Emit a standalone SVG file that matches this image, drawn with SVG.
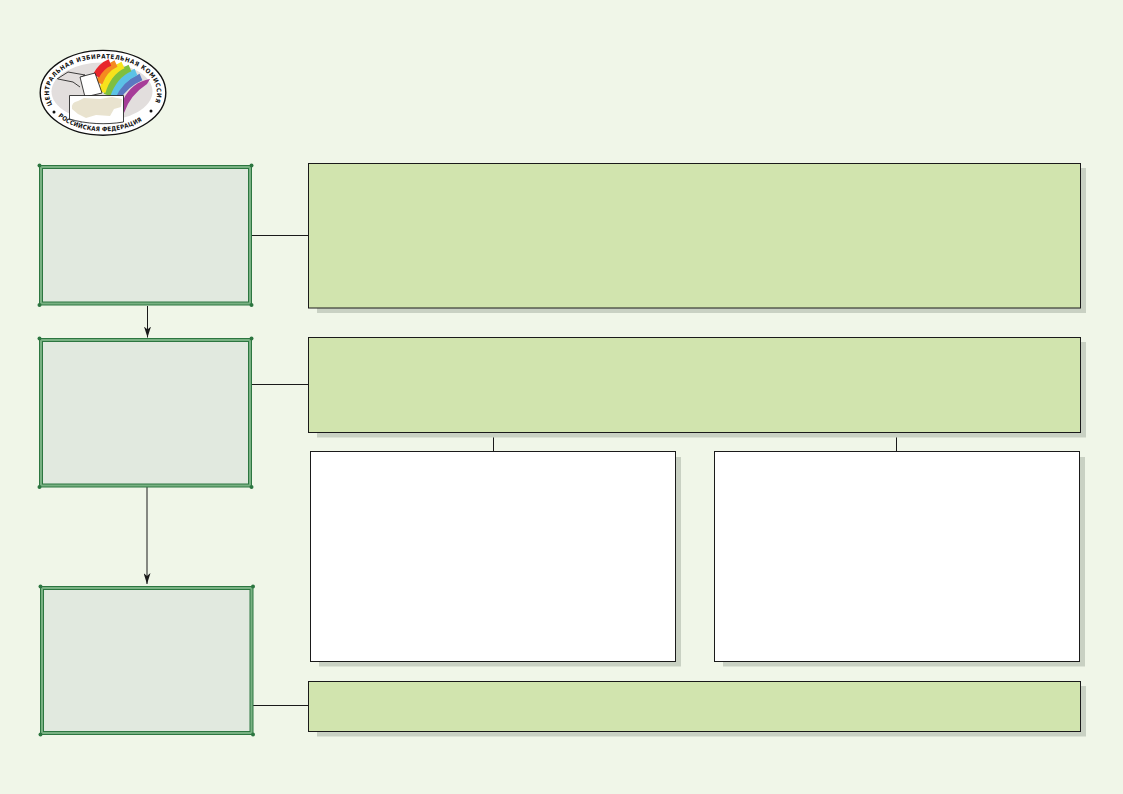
<svg xmlns="http://www.w3.org/2000/svg" width="1123" height="794" viewBox="0 0 1123 794">
<style>
.frame{fill:#78b182;stroke:#2c7640;stroke-width:1}
.inner{fill:#e1e9df;stroke:#2c7640;stroke-width:1}
.dot{fill:#2c7640}
.panel{fill:#d1e4ae;stroke:#1a1a1a;stroke-width:1}
.white{fill:#fff;stroke:#1a1a1a;stroke-width:1}
.shadow{fill:#c9d1c3}
.line{fill:none;stroke:#1a1a1a;stroke-width:1}
.band{fill:none;stroke-width:7}
.ring{font-family:"DejaVu Sans Condensed","DejaVu Sans","Liberation Sans",sans-serif;font-size:6.2px;font-weight:700;fill:#111}
</style>
<defs>
<marker id="arrow" markerUnits="userSpaceOnUse" markerWidth="11" markerHeight="7" refX="11" refY="3.500" orient="auto" viewBox="0 0 11 7">
<path d="M0 0 L3 3.500 L0 7 L11 3.500 Z" fill="#1a1a1a"/>
</marker>
<path id="topArc" d="M58 112 A54 34.500 0 1 1 148 112"/>
<path id="botArc" d="M54 112 A56 37.500 0 0 0 152 112"/>
</defs>
<rect width="1123" height="794" fill="#f0f6e8"/>
<g id="logo">
<ellipse cx="103" cy="92.800" rx="62.800" ry="42.400" fill="#fff" stroke="#111" stroke-width="1.400"/>
<ellipse cx="102" cy="91.500" rx="50.500" ry="29" fill="#e2dedd"/>
<path d="M150 79 Q132 82 123 100 L124 113 Q130 95 147 84 Z" fill="#a63c98"/>
<path class="band" stroke="#5a78c0" d="M141 77 Q125 84 117 98"/>
<path class="band" stroke="#5cc2e6" d="M136 72 Q120 79 112 97"/>
<path class="band" stroke="#7fbf3f" d="M130 68 Q114 75 107 95"/>
<path class="band" stroke="#f7e21c" d="M123 65 Q108 72 102 92"/>
<path class="band" stroke="#f58a20" d="M116 63.500 Q104 69 99 83"/>
<path class="band" stroke="#e8262c" d="M110 62.500 Q101 66 96 76"/>
<path d="M57 79 L68 72 L85 75 L80 78 M58 79 L73 82 L80 87" fill="none" stroke="#111" stroke-width="0.800"/>
<path d="M80 77 L95 73 L102 93 L85 97 Z" fill="#fff" stroke="#111" stroke-width="0.800"/>
<path d="M69.500 119 V95.500 H123.500 V122 C106 125 86 124 69.500 119 Z" fill="#fff" stroke="#111" stroke-width="0.800"/>
<path d="M72 109 Q71 102 78 101 L84 98 L100 99 L112 97 L122 99 L121 107 L114 109 L110 116 L96 115 L86 118 L78 114 Z" fill="#e9e3cf"/>
<text class="ring" letter-spacing="0.550"><textPath href="#topArc" startOffset="9">ЦЕНТРАЛЬНАЯ ИЗБИРАТЕЛЬНАЯ КОМИССИЯ</textPath></text>
<text class="ring" letter-spacing="0.150"><textPath href="#botArc" startOffset="6">РОССИЙСКАЯ ФЕДЕРАЦИЯ</textPath></text>
<circle cx="54" cy="112" r="1.500" fill="#111"/><circle cx="151" cy="111" r="1.500" fill="#111"/>
</g>
<g id="connectors">
<path class="line" d="M251 235.500H308M251 384.500H308M253 705.500H308M493.500 433V451M896.500 433V451"/>
<path class="line" marker-end="url(#arrow)" d="M147.500 306V337.500"/>
<path class="line" marker-end="url(#arrow)" d="M147 487V584"/>
</g>
<g id="stage-1">
<rect class="frame" x="39.500" y="165.500" width="212" height="139.500"/>
<rect class="inner" x="42.500" y="168.500" width="206" height="133.500"/>
<circle class="dot" cx="39.500" cy="165.500" r="2"/><circle class="dot" cx="251.500" cy="165.500" r="2"/><circle class="dot" cx="39.500" cy="305" r="2"/><circle class="dot" cx="251.500" cy="305" r="2"/>
</g>
<g id="stage-2">
<rect class="frame" x="39.500" y="338.500" width="212" height="148.500"/>
<rect class="inner" x="42.500" y="341.500" width="206" height="142.500"/>
<circle class="dot" cx="39.500" cy="338.500" r="2"/><circle class="dot" cx="251.500" cy="338.500" r="2"/><circle class="dot" cx="39.500" cy="487" r="2"/><circle class="dot" cx="251.500" cy="487" r="2"/>
</g>
<g id="stage-3">
<rect class="frame" x="40.500" y="586.500" width="212.500" height="148"/>
<rect class="inner" x="43.500" y="589.500" width="206.500" height="142"/>
<circle class="dot" cx="40.500" cy="586.500" r="2"/><circle class="dot" cx="253" cy="586.500" r="2"/><circle class="dot" cx="40.500" cy="734.500" r="2"/><circle class="dot" cx="253" cy="734.500" r="2"/>
</g>
<g id="panel-1">
<rect class="shadow" x="317" y="168" width="769" height="145"/>
<rect class="panel" x="308.500" y="163.500" width="772" height="144.500"/>
</g>
<g id="panel-2">
<rect class="shadow" x="317" y="342" width="769" height="95.500"/>
<rect class="panel" x="308.500" y="337.500" width="772" height="95"/>
</g>
<g id="panel-2a">
<rect class="shadow" x="319" y="457" width="362" height="209.500"/>
<rect class="white" x="310.500" y="451.500" width="365" height="210"/>
</g>
<g id="panel-2b">
<rect class="shadow" x="723" y="457" width="362" height="209.500"/>
<rect class="white" x="714.500" y="451.500" width="365" height="210"/>
</g>
<g id="panel-3">
<rect class="shadow" x="317" y="686" width="769" height="50.500"/>
<rect class="panel" x="308.500" y="681.500" width="772" height="50"/>
</g>
</svg>
